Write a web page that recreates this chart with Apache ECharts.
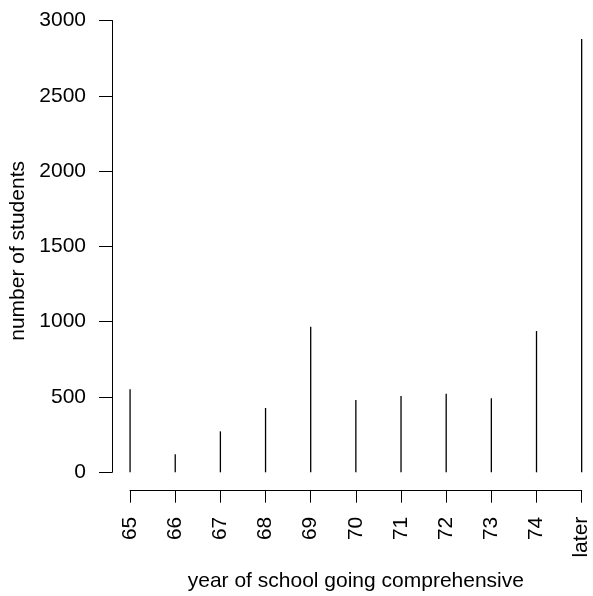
<!DOCTYPE html>
<html>
<head>
<meta charset="utf-8">
<script src="https://cdn.jsdelivr.net/npm/echarts@6/dist/echarts.min.js"></script>
<style>
html,body{margin:0;padding:0;background:#fff;}
#chart{width:593px;height:596px;}
</style>
</head>
<body>
<div id="chart"></div>
<script>
var categories = ['65','66','67','68','69','70','71','72','73','74','later'];
var students = [551, 120, 272, 427, 967, 480, 507, 522, 491, 938, 2877];
var yTicks = [0, 500, 1000, 1500, 2000, 2500, 3000];

var FONT = 'Liberation Sans, Arial, Helvetica, sans-serif';
var FS = 21;

var chart = echarts.init(document.getElementById('chart'), null, {renderer: 'canvas'});
var seriesData = categories.map(function (c, i) { return [i + 1, students[i]]; });

chart.setOption({
  animation: false,
  backgroundColor: '#ffffff',
  grid: [
    {left: 112, top: 20.5, height: 451.8, right: 2.3, outerBoundsMode: 'none', containLabel: false},
    {left: 130, right: 11.3, bottom: 105.3, height: 1, outerBoundsMode: 'none', containLabel: false}
  ],
  xAxis: [
    {gridIndex: 0, type: 'value', min: 0.6, max: 11.2, show: false},
    {
      gridIndex: 1, type: 'value', position: 'bottom', min: 1, max: 11, interval: 1,
      axisLine: {show: true, lineStyle: {color: '#000', width: 1}},
      axisTick: {show: true, inside: false, length: 12, lineStyle: {color: '#000', width: 1}},
      splitLine: {show: false},
      axisLabel: {
        rotate: 90, margin: 26, color: '#000', fontSize: FS, fontFamily: FONT,
        formatter: function (v) { return categories[Math.round(v) - 1] || ''; }
      },
      name: 'year of school going comprehensive',
      nameLocation: 'middle', nameGap: 80,
      nameTextStyle: {color: '#000', fontSize: FS, fontFamily: FONT}
    }
  ],
  yAxis: [
    {
      gridIndex: 0, type: 'value', min: yTicks[0], max: yTicks[yTicks.length - 1], interval: 500,
      axisLine: {show: true, lineStyle: {color: '#000', width: 1}},
      axisTick: {show: true, inside: false, length: 13, lineStyle: {color: '#000', width: 1}},
      splitLine: {show: false},
      axisLabel: {margin: 26, color: '#000', fontSize: FS, fontFamily: FONT,
        formatter: function (v) { return String(v); }},
      name: 'number of students',
      nameLocation: 'middle', nameGap: 76, nameRotate: 90,
      nameTextStyle: {color: '#000', fontSize: FS, fontFamily: FONT, padding: [0, 9, 0, 0]}
    },
    {gridIndex: 1, type: 'value', show: false}
  ],
  series: [{
    type: 'bar',
    xAxisIndex: 0, yAxisIndex: 0,
    data: seriesData,
    barWidth: 1.3,
    clip: false,
    itemStyle: {color: '#000'}
  }]
});
</script>
</body>
</html>
